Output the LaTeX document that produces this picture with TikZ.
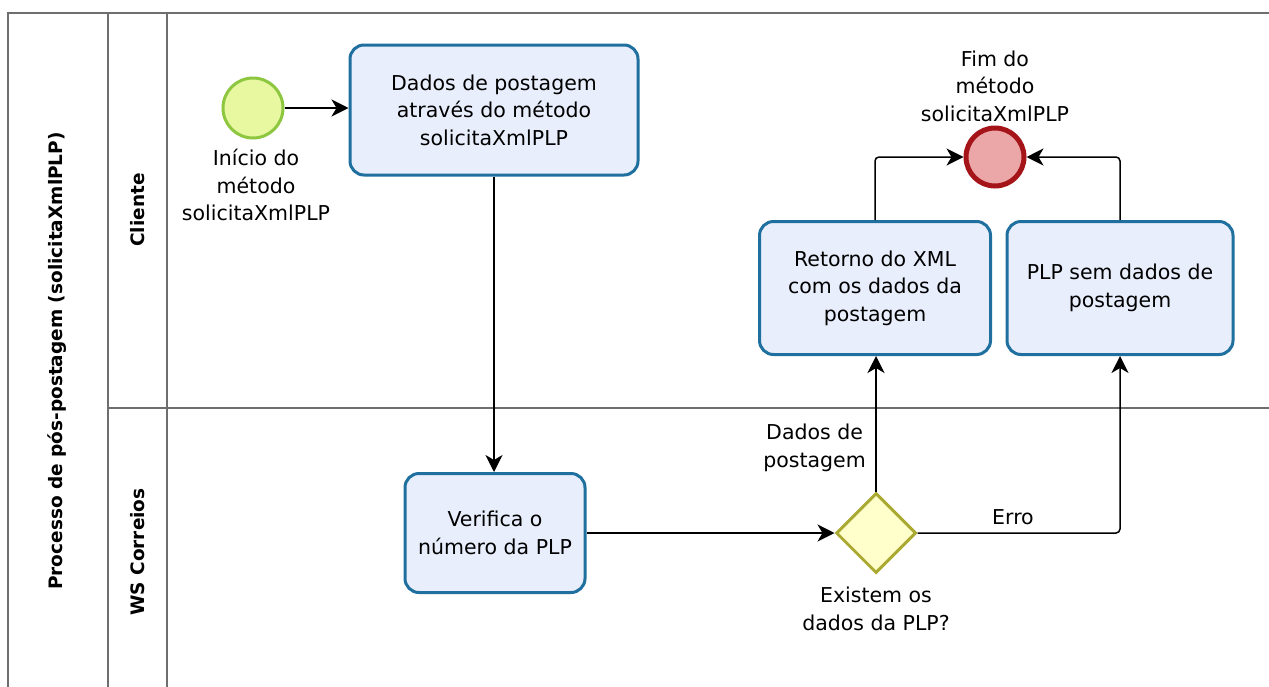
\documentclass[tikz,border=0pt]{standalone}
\usepackage{fontspec}
\setmainfont{DejaVu Sans}
\usetikzlibrary{arrows.meta,shapes.geometric}
\definecolor{taskfill}{RGB}{232,238,252}
\definecolor{taskdraw}{RGB}{31,111,159}
\definecolor{startfill}{RGB}{232,248,160}
\definecolor{startdraw}{RGB}{141,198,63}
\definecolor{endfill}{RGB}{235,166,168}
\definecolor{enddraw}{RGB}{165,20,25}
\definecolor{gwfill}{RGB}{255,255,204}
\definecolor{gwdraw}{RGB}{170,170,50}
\definecolor{lanec}{RGB}{110,110,110}
\tikzset{
  txt/.style={font=\fontsize{20.5}{27.5}\selectfont, align=center, inner sep=0pt},
  task/.style={txt, draw=taskdraw, fill=taskfill, line width=3pt, rounded corners=14pt, minimum width=#1},
  startev/.style={circle, draw=startdraw, fill=startfill, line width=3pt, minimum size=60pt, inner sep=0pt},
  endev/.style={circle, draw=enddraw, fill=endfill, line width=5pt, minimum size=58pt, inner sep=0pt},
  gw/.style={diamond, draw=gwdraw, fill=gwfill, line width=3pt, minimum width=80pt, minimum height=80pt, inner sep=0pt},
  flow/.style={draw=black, line width=1.5pt, -{Stealth[length=17pt,width=17pt,inset=5pt]}, rounded corners=4pt},
  lane/.style={draw=lanec, line width=2pt},
  lanelbl/.style={font=\fontsize{18.5}{20}\selectfont\bfseries, rotate=90, inner sep=0pt}
}
\begin{document}
\begin{tikzpicture}[x=1pt,y=-1pt]
\useasboundingbox[fill=white] (0,0) rectangle (1269,686);
% pool and lanes
\draw[lane] (8,700) -- (8,13) -- (1275,13);
\draw[lane] (108,13) -- (108,700);
\draw[lane] (167,13) -- (167,700);
\draw[lane] (108,408) -- (1275,408);
\node[lanelbl] (pool) at (57,361) {Processo de pós-postagem (solicitaXmlPLP)};
\node[lanelbl] (cli) at (138,210) {Cliente};
\node[lanelbl] (ws) at (138,552) {WS Correios};
% nodes
\node[startev] (start) at (253,108) {};
\node[txt] (startlbl) at (256,185) {Início do\\método\\solicitaXmlPLP};
\node[task=288pt, minimum height=130pt] (t1) at (494,110) {Dados de postagem\\através do método\\solicitaXmlPLP};
\node[task=180pt, minimum height=119pt] (t2) at (495,533) {Verifica o\\número da PLP};
\node[gw] (gw) at (876,533) {};
\node[txt] (gwlbl) at (876,609) {Existem os\\dados da PLP?};
\node[task=231pt, minimum height=133pt] (t3) at (875,288) {Retorno do XML\\com os dados da\\postagem};
\node[task=226pt, minimum height=133pt] (t4) at (1120,288) {PLP sem dados de\\postagem};
\node[endev] (end) at (995,157) {};
\node[txt] (endlbl) at (995,86) {Fim do\\método\\solicitaXmlPLP};
\node[txt, anchor=east] (lbl1) at (866,448) {Dados de\\postagem};
\node[txt] (lbl2) at (1013,517) {Erro};
% flows
\draw[flow] (start.east) -- (start.east -| t1.west);
\draw[flow] (t1.south) -- (t1.south |- t2.north);
\draw[flow] (t2) -- (gw);
\draw[flow] (gw.north) -- (gw.north |- t3.south);
\draw[flow] (gw.east) -- (t4.south |- gw.east) -- (t4.south);
\draw[flow] (t3.north) -- (t3.north |- end.west) -- (end.west);
\draw[flow] (t4.north) -- (t4.north |- end.east) -- (end.east);
\end{tikzpicture}
\end{document}
